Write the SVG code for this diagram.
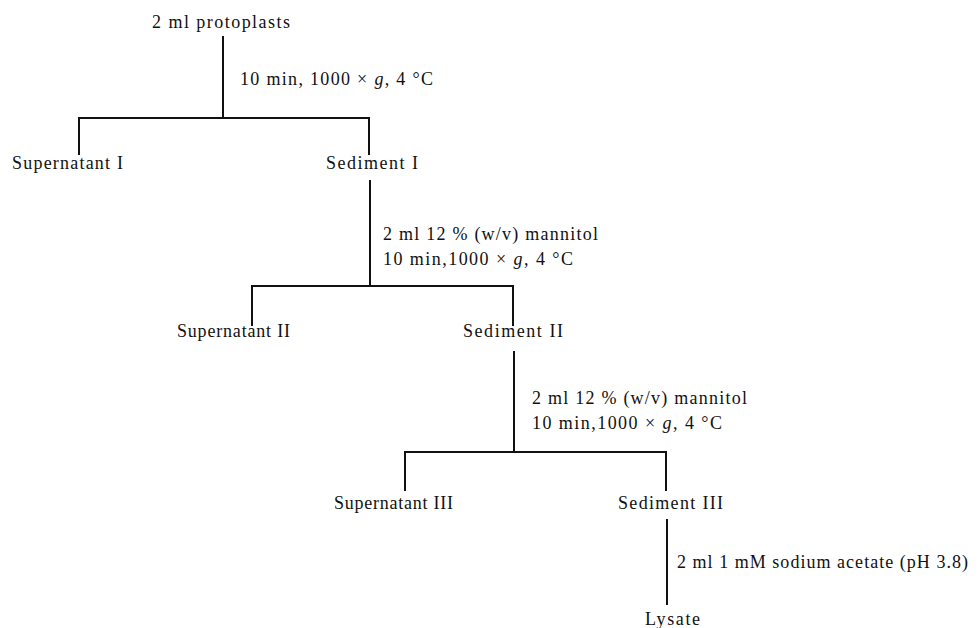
<svg xmlns="http://www.w3.org/2000/svg" width="980" height="628" viewBox="0 0 980 628">
<style>
text{font-family:"Liberation Serif","Times New Roman",serif;font-size:18px;fill:#111}
.c{stroke:#111;stroke-width:2;fill:none;stroke-linecap:square}
.i{font-style:italic}
</style>
<rect width="980" height="628" fill="#fff"/>
<g id="connectors">
<path class="c" d="M223 37V118M79 118H369M79 118V154M369 118V154"/>
<path class="c" d="M370 181V286M252 286H513M252 286V325M513 286V325"/>
<path class="c" d="M514 352V452M405 452H666M405 452V490M666 452V490"/>
<path class="c" d="M667 520V604"/>
</g>
<g id="protoplasts"><text x="152" y="28" textLength="138">2 ml protoplasts</text></g>
<g id="step1"><text x="240" y="85" textLength="193">10 min, 1000 × <tspan class="i">g</tspan>, 4 °C</text></g>
<g id="supernatant1"><text x="12" y="169" textLength="111">Supernatant I</text></g>
<g id="sediment1"><text x="326" y="169" textLength="92">Sediment I</text></g>
<g id="step2">
<text x="383" y="240" textLength="215">2 ml 12 % (w/v) mannitol</text>
<text x="383" y="265" textLength="190">10 min,1000 × <tspan class="i">g</tspan>, 4 °C</text>
</g>
<g id="supernatant2"><text x="177" y="337" textLength="113">Supernatant II</text></g>
<g id="sediment2"><text x="463" y="337" textLength="100">Sediment II</text></g>
<g id="step3">
<text x="532" y="404" textLength="215">2 ml 12 % (w/v) mannitol</text>
<text x="532" y="429" textLength="190">10 min,1000 × <tspan class="i">g</tspan>, 4 °C</text>
</g>
<g id="supernatant3"><text x="334" y="509" textLength="119">Supernatant III</text></g>
<g id="sediment3"><text x="618" y="509" textLength="105">Sediment III</text></g>
<g id="step4"><text x="677" y="568" textLength="291">2 ml 1 mM sodium acetate (pH 3.8)</text></g>
<g id="lysate"><text x="645" y="625" textLength="55">Lysate</text></g>
</svg>
